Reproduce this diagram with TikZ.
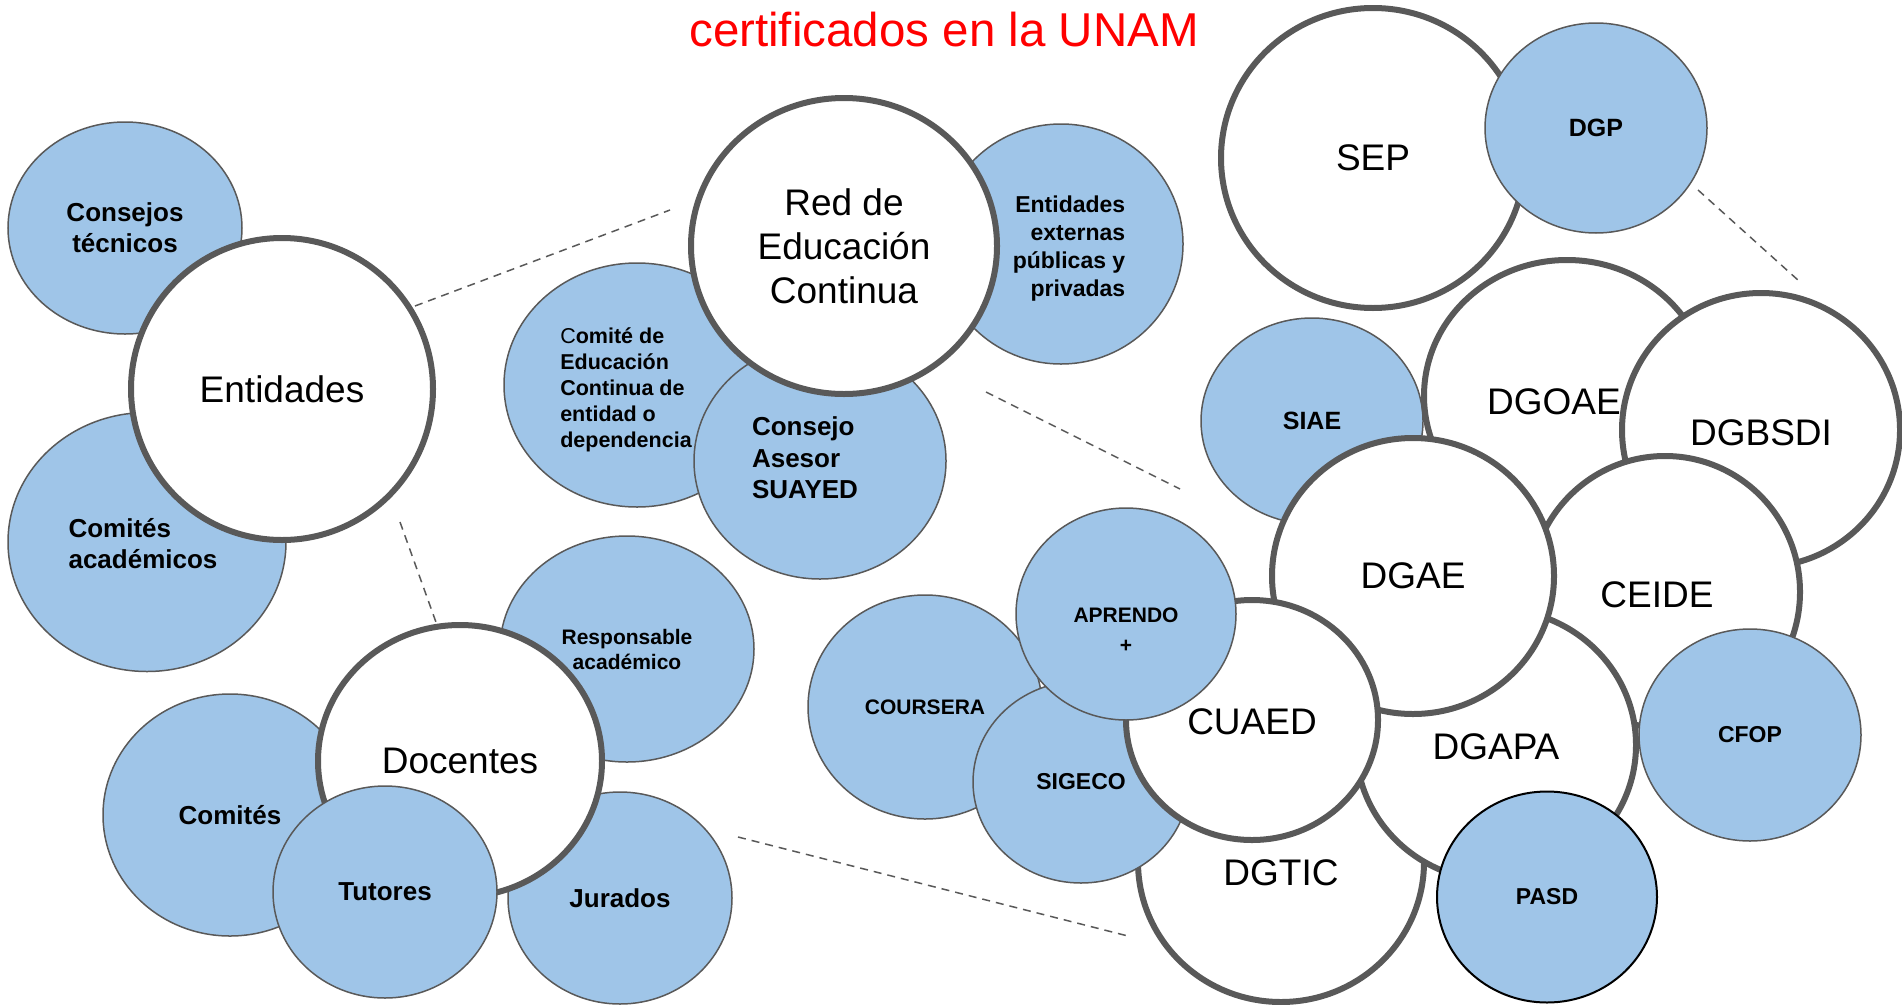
\documentclass[tikz,border=0pt]{standalone}
\usepackage{fontspec}
\setmainfont{Liberation Sans}
\usepackage{tikz}
\usetikzlibrary{shapes.geometric}
\definecolor{rim}{HTML}{595959}
\definecolor{bubble}{HTML}{9FC5E8}

\begin{document}
\begin{tikzpicture}[x=1pt,y=-1pt]
\tikzstyle{hub} =[ellipse,draw=rim,line width=6pt,fill=white,inner sep=0pt,align=center,font=\fontsize{37}{44}\selectfont]
\tikzstyle{leaf} =[ellipse,draw=rim,line width=1.5pt,fill=bubble,inner sep=0pt,align=center,font=\bfseries\fontsize{26}{31}\selectfont]
\tikzstyle{hubtext} =[align=center,inner sep=0pt,font=\fontsize{37}{44}\selectfont]
\tikzstyle{midtext} =[align=center,inner sep=0pt,font=\bfseries\fontsize{23}{28}\selectfont]
\tikzstyle{lowtext} =[align=center,inner sep=0pt,font=\bfseries\fontsize{21}{25}\selectfont]
\tikzstyle{link} =[draw=rim,line width=1.5pt,dash pattern=on 8pt off 6pt]

\useasboundingbox (0,0) rectangle (1902,1004);

\node[text=red,anchor=base,font=\fontsize{47.5}{57}\selectfont] (titulo) at (944,46) {certificados en la UNAM};

\node[leaf,minimum width=234,minimum height=212] (consejos) at (125,228) {Consejos\\técnicos};
\node[leaf,minimum width=278,minimum height=259,label={[lowtext,align=left,font=\bfseries\fontsize{26}{31}\selectfont,xshift=-4pt,yshift=-2pt]center:{Comités\\académicos}}] (comacad) at (147,542) {};
\node[hub,minimum width=302,minimum height=302] (entidades) at (282,389) {Entidades};

\node[leaf,minimum width=266,minimum height=244,label={[lowtext,align=left,font=\bfseries\fontsize{21.5}{26}\selectfont,xshift=-11pt,yshift=-5pt]center:{{\mdseries C}omité de\\Educación\\Continua de\\entidad o\\dependencia}}] (comiteec) at (637,385) {};
\node[leaf,minimum width=252,minimum height=236,label={[lowtext,align=left,font=\bfseries\fontsize{26}{31.5}\selectfont,xshift=-15pt,yshift=3pt]center:{Consejo\\Asesor\\SUAYED}}] (suayed) at (820,461) {};
\node[leaf,minimum width=244,minimum height=240,label={[midtext,align=right,xshift=8pt,yshift=-5pt]center:{Entidades\\externas\\públicas y\\privadas}}] (externas) at (1061,244) {};
\node[hub,minimum width=306,minimum height=296] (red) at (844,246) {Red de\\Educación\\Continua};

\node[leaf,minimum width=254,minimum height=242] (comites) at (230,815) {Comités};
\node[leaf,minimum width=254,minimum height=226,font=\bfseries\fontsize{21}{25}\selectfont] (responsable) at (627,649) {Responsable\\académico};
\node[leaf,minimum width=224,minimum height=212] (jurados) at (620,898) {Jurados};
\node[hub,minimum width=284,minimum height=272] (docentes) at (460,761) {Docentes};
\node[leaf,minimum width=224,minimum height=212] (tutores) at (385,892) {Tutores};

\node[hub,minimum width=304,minimum height=300] (sep) at (1373,158) {SEP};
\node[leaf,minimum width=222,minimum height=210,font=\bfseries\fontsize{25}{30}\selectfont] (dgp) at (1596,128) {DGP};
\node[leaf,minimum width=222,minimum height=206,font=\bfseries\fontsize{25}{30}\selectfont] (siae) at (1312,421) {SIAE};
\node[hub,minimum width=286,minimum height=272,label={[hubtext,xshift=-13pt,yshift=-6pt]center:DGOAE}] (dgoae) at (1567,396) {};
\node[hub,minimum width=278,minimum height=274,label={[hubtext,yshift=-3pt]center:DGBSDI}] (dgbsdi) at (1761,430) {};
\node[hub,minimum width=270,minimum height=272,label={[hubtext,xshift=-8pt,yshift=-3pt]center:CEIDE}] (ceide) at (1665,592) {};
\node[hub,minimum width=286,minimum height=280,label={[hubtext,yshift=-11pt]center:DGTIC}] (dgtic) at (1281,862) {};
\node[hub,minimum width=280,minimum height=272,label={[hubtext,yshift=-2pt]center:DGAPA}] (dgapa) at (1496,745) {};
\node[leaf,draw=black,line width=2pt,minimum width=220,minimum height=211,font=\bfseries\fontsize{23}{28}\selectfont] (pasd) at (1547,897) {PASD};
\node[leaf,minimum width=222,minimum height=212,font=\bfseries\fontsize{23}{28}\selectfont] (cfop) at (1750,735) {CFOP};
\node[hub,minimum width=282,minimum height=276] (dgae) at (1413,576) {DGAE};
\node[leaf,minimum width=234,minimum height=224,font=\bfseries\fontsize{21}{25}\selectfont] (coursera) at (925,707) {COURSERA};
\node[leaf,minimum width=216,minimum height=202,font=\bfseries\fontsize{23}{28}\selectfont] (sigeco) at (1081,782) {SIGECO};
\node[hub,minimum width=252,minimum height=240,label={[hubtext,yshift=-2pt]center:CUAED}] (cuaed) at (1252,720) {};
\node[leaf,minimum width=220,minimum height=212,label={[lowtext,font=\bfseries\fontsize{21}{30}\selectfont,yshift=-16pt]center:{APRENDO\\+}}] (aprendo) at (1126,614) {};

\coordinate (d1a) at (415,306);
\coordinate (d1b) at (670,210);
\coordinate (d2a) at (400,522);
\coordinate (d2b) at (437,625);
\coordinate (d3a) at (986,392);
\coordinate (d3b) at (1180,489);
\coordinate (d4a) at (738,837);
\coordinate (d4b) at (1128,936);
\coordinate (d5a) at (1698,190);
\coordinate (d5b) at (1799,281);

\draw [link] (d1a) -- (d1b);
\draw [link] (d2a) -- (d2b);
\draw [link] (d3a) -- (d3b);
\draw [link] (d4a) -- (d4b);
\draw [link] (d5a) -- (d5b);
\end{tikzpicture}
\end{document}
